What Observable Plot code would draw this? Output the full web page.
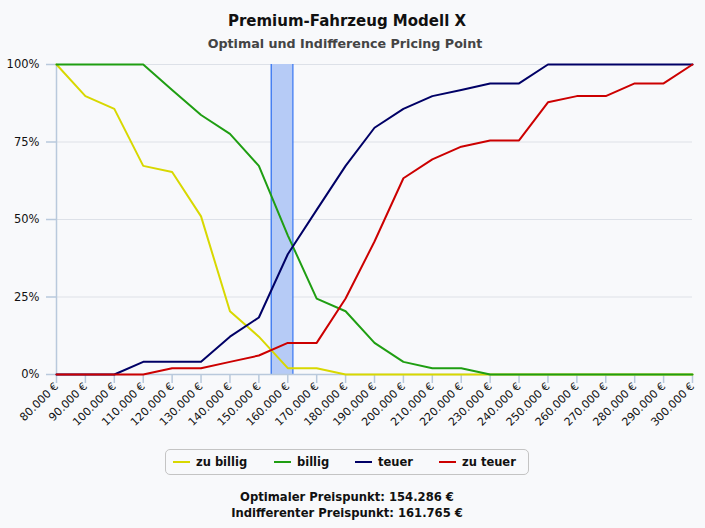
<!DOCTYPE html>
<html>
<head>
<meta charset="utf-8">
<script src="https://cdn.jsdelivr.net/npm/d3@7"></script>
<script src="https://cdn.jsdelivr.net/npm/@observablehq/plot@0.6"></script>
<style>
  html, body { margin: 0; padding: 0; background: #f8f9fb; }
  body { width: 705px; height: 528px; position: relative; overflow: hidden; font-family: "DejaVu Sans", Verdana, sans-serif; }
  #title { position: absolute; top: 12px; left: 0; width: 694px; text-align: center; font-weight: bold; font-size: 15px; color: #111; }
  #subtitle { position: absolute; top: 36px; left: 0; width: 690px; text-align: center; font-weight: bold; font-size: 12.7px; color: #444; }
  #chart { position: absolute; top: 55px; left: 0; }
  #chart svg g[aria-label="x-axis tick label"] text { font-size: 11px; }
  #chart svg g[aria-label="y-axis tick label"] text { font-size: 11.5px; }
  #legend { position: absolute; left: 165px; top: 449px; width: 362px; height: 24px; border: 1px solid #c4c4c4; border-radius: 5px; background: #f8f9fb; }
  .item { position: absolute; top: 5px; font-weight: bold; font-size: 11.5px; color: #111; white-space: nowrap; }
  .swatch { display: inline-block; width: 17px; height: 2px; vertical-align: middle; margin-right: 6px; position: relative; top: -1px; }
  #footer { position: absolute; top: 489px; left: 0; width: 694px; text-align: center; font-weight: bold; font-size: 11.6px; line-height: 16px; color: #111; }
</style>
</head>
<body>
<div id="title">Premium-Fahrzeug Modell X</div>
<div id="subtitle">Optimal und Indifference Pricing Point</div>
<div id="chart"></div>
<div id="legend"></div>
<div id="footer"></div>
<script>
const prices = [80000, 90000, 100000, 110000, 120000, 130000, 140000, 150000, 160000, 170000, 180000, 190000, 200000, 210000, 220000, 230000, 240000, 250000, 260000, 270000, 280000, 290000, 300000];
const seriesNames = ["zu billig", "billig", "teuer", "zu teuer"];
const seriesColors = ["#d8d800", "#1f9e12", "#000066", "#cc0000"];
// share of respondents (n = 49)
const zuBillig = [1.0, 0.898, 0.857, 0.673, 0.653, 0.510, 0.204, 0.122, 0.0204, 0.0204, 0, 0, 0, 0, 0, 0, 0, 0, 0, 0, 0, 0, 0];
const billig   = [1.0, 1.0, 1.0, 1.0, 0.918, 0.837, 0.776, 0.673, 0.449, 0.245, 0.204, 0.102, 0.0408, 0.0204, 0.0204, 0, 0, 0, 0, 0, 0, 0, 0];
const teuer    = [0, 0, 0, 0.0408, 0.0408, 0.0408, 0.122, 0.184, 0.388, 0.531, 0.673, 0.796, 0.857, 0.898, 0.918, 0.939, 0.939, 1.0, 1.0, 1.0, 1.0, 1.0, 1.0];
const zuTeuer  = [0, 0, 0, 0, 0.0204, 0.0204, 0.0408, 0.0612, 0.102, 0.102, 0.245, 0.429, 0.633, 0.694, 0.735, 0.755, 0.755, 0.878, 0.898, 0.898, 0.939, 0.939, 1.0];
const yTicks = [0, 0.25, 0.5, 0.75, 1];
const optimalPrice = 154286;
const indifferentPrice = 161765;

const allSeries = [zuBillig, billig, teuer, zuTeuer];
const rows = [];
allSeries.forEach((vals, si) => {
  vals.forEach((v, i) => rows.push({price: prices[i], share: v, series: seriesNames[si]}));
});

const euro = d => d3.format(",")(d).replace(/,/g, ".") + " €";
const band = [{x1: optimalPrice, x2: indifferentPrice}];
const axisColor = "#b9c9dc";

const chart = Plot.plot({
  width: 705,
  height: 390,
  marginTop: 9,
  marginBottom: 71,
  marginLeft: 56,
  marginRight: 13,
  style: {background: "transparent", fontFamily: "DejaVu Sans, Verdana, sans-serif", fontSize: "11px", color: "#111"},
  x: {domain: [prices[0], prices[prices.length - 1]]},
  y: {domain: [0, 1]},
  color: {domain: seriesNames, range: seriesColors},
  marks: [
    Plot.ruleY(yTicks.slice(1), {stroke: "#dde1e8", strokeWidth: 1.2}),
    Plot.rectY(band, {x1: "x1", x2: "x2", y1: 0, y2: 1, fill: "#b6cbf6"}),
    Plot.ruleX(band, {x: "x1", y1: 0, y2: 1, stroke: "#3a78f2", strokeWidth: 1.3}),
    Plot.ruleX(band, {x: "x2", y1: 0, y2: 1, stroke: "#3a78f2", strokeWidth: 1.3}),
    Plot.axisY({ticks: yTicks, tickFormat: d3.format(".0%"), tickSize: 10, tickPadding: 7, stroke: axisColor, strokeWidth: 1.5, strokeOpacity: 1, label: null}),
    Plot.axisX({ticks: prices, tickFormat: euro, tickRotate: -45, tickSize: 9, tickPadding: 1, stroke: axisColor, strokeWidth: 1.5, strokeOpacity: 1, label: null}),
    Plot.ruleX([prices[0]], {stroke: axisColor, strokeWidth: 1.5}),
    Plot.ruleY([0], {stroke: axisColor, strokeWidth: 1.5}),
    Plot.line(rows, {x: "price", y: "share", z: "series", stroke: "series", strokeWidth: 2})
  ]
});
document.getElementById("chart").appendChild(chart);

const legend = document.getElementById("legend");
const itemLefts = [7, 108, 189, 273];
seriesNames.forEach((name, i) => {
  const el = document.createElement("div");
  el.className = "item";
  el.style.left = itemLefts[i] + "px";
  el.innerHTML = `<span class="swatch" style="background:${seriesColors[i]}"></span>${name}`;
  legend.appendChild(el);
});

document.getElementById("footer").innerHTML =
  `Optimaler Preispunkt: ${euro(optimalPrice)}<br>Indifferenter Preispunkt: ${euro(indifferentPrice)}`;
</script>
</body>
</html>
